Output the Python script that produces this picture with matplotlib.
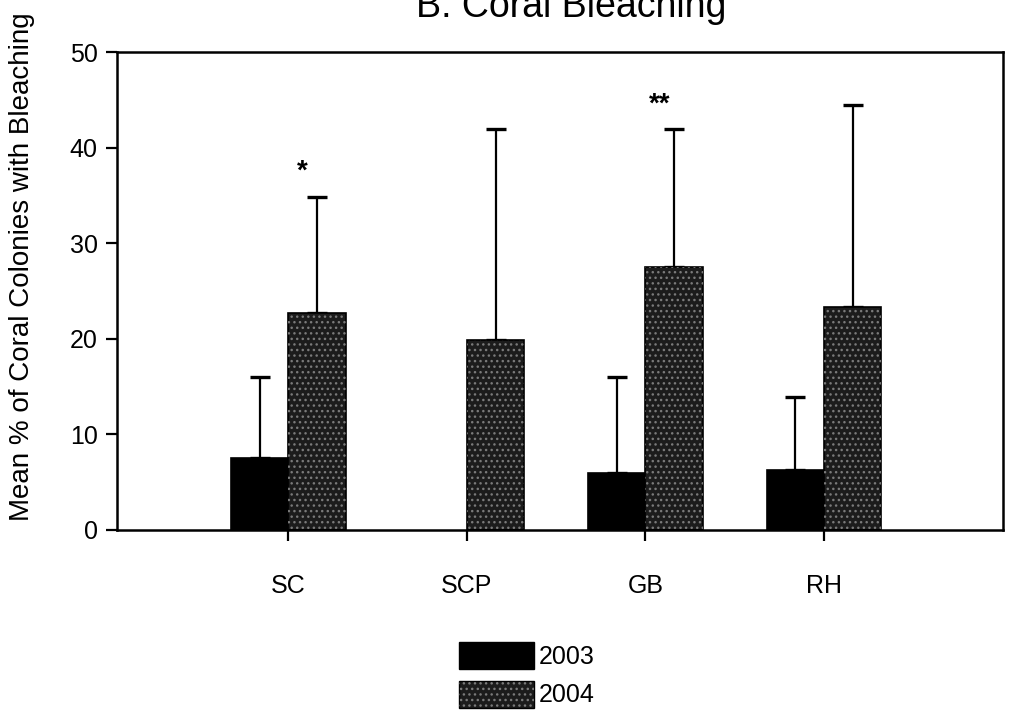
import matplotlib
matplotlib.use("Agg")
import matplotlib.pyplot as plt
from matplotlib.patches import Patch
import numpy as np

plt.rcParams['font.family'] = ['Liberation Sans', 'DejaVu Sans']

# Mean % of coral colonies with bleaching, by site and year
sites = ["SC", "SCP", "GB", "RH"]
mean_2003 = [7.5, 0.0, 6.0, 6.3]
err_2003 = [8.5, 0.0, 10.0, 7.6]
mean_2004 = [22.7, 19.9, 27.5, 23.3]
err_2004 = [12.1, 22.1, 14.5, 21.2]
# significance marks placed over the 2004 bars
sig_marks = ["*", "", "**", ""]
sig_heights = [37.5, 0.0, 44.5, 0.0]

years = ["2003", "2004"]
yticks = [0, 10, 20, 30, 40, 50]

fig = plt.figure(figsize=(10.11, 7.15), dpi=100)
ax = fig.add_axes([0.1157, 0.259, 0.876, 0.668])

x = np.arange(len(sites))
w = 0.32
dark = "#1c1c1c"
speck = "#7a7a7a"

# 2003 bars (solid black) with upper error bars only
has03 = np.array(mean_2003) > 0
ax.bar((x - w / 2)[has03], np.array(mean_2003)[has03], width=w, color="black",
       edgecolor="black", linewidth=1.2, zorder=2)
ax.errorbar((x - w / 2)[has03], np.array(mean_2003)[has03],
            yerr=[np.zeros(has03.sum()), np.array(err_2003)[has03]],
            fmt="none", ecolor="black", elinewidth=1.6, capsize=7.5, capthick=2.4, zorder=1)

# 2004 bars (dark speckled fill) with upper error bars only
ax.bar(x + w / 2, mean_2004, width=w, color=dark, edgecolor="black", linewidth=1.2, zorder=2)
ax.bar(x + w / 2, mean_2004, width=w, fill=False, hatch="...", edgecolor=speck,
       linewidth=0, zorder=3)
ax.errorbar(x + w / 2, mean_2004, yerr=[np.zeros(len(sites)), err_2004],
            fmt="none", ecolor="black", elinewidth=1.6, capsize=7.5, capthick=2.4, zorder=1)

# significance stars
for xi, mark, h in zip(x, sig_marks, sig_heights):
    if mark:
        ax.text(xi + 0.08, h, mark, ha="center", va="center", fontsize=20, fontweight="bold")

ax.set_xlim(-0.96, 4.0)
ax.set_ylim(0, 50)
ax.set_yticks(yticks)
ax.set_xticks(x)
ax.set_xticklabels(sites)
ax.tick_params(axis="both", direction="out", length=8, width=1.6, labelsize=18, pad=6)
ax.tick_params(axis="x", pad=24)
for s in ax.spines.values():
    s.set_linewidth(1.8)

ax.set_ylabel("Mean % of Coral Colonies with Bleaching", fontsize=20)
ax.yaxis.set_label_coords(-0.093, 0.55)

# title sits partly above the top edge of the page
fig.text(0.565, 1.0 - 17 / 715, "B. Coral Bleaching", ha="center", va="baseline", fontsize=27)

handles = [Patch(facecolor="black", edgecolor="black"),
           (Patch(facecolor=dark, edgecolor="black"),
            Patch(fill=False, hatch="...", edgecolor=speck, linewidth=0))]
fig.legend(handles, years, loc="upper left", bbox_to_anchor=(459 / 1011, 1 - 642 / 715),
           bbox_transform=fig.transFigure, frameon=False, fontsize=18,
           handlelength=3.0, handleheight=1.3, handletextpad=0.2, labelspacing=0.45,
           borderpad=0, borderaxespad=0)

fig.savefig("out.png", dpi=100)
